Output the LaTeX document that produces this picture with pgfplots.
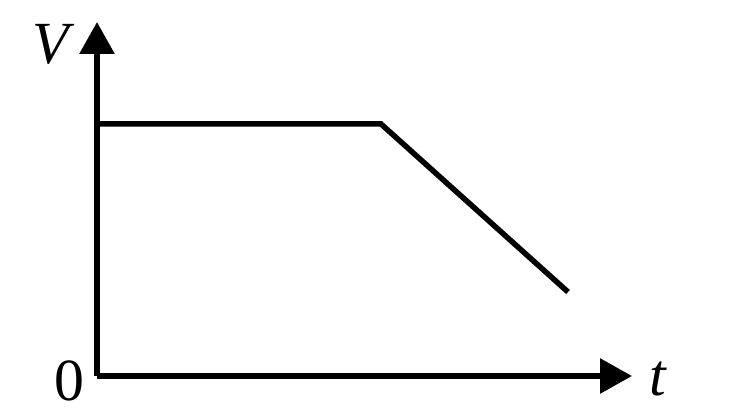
\documentclass[border=0pt]{standalone}
\usepackage{pgfplots}
\pgfplotsset{compat=1.18}
\usepackage{fontspec}
\setmainfont{Liberation Serif}
\usetikzlibrary{arrows.meta}
\begin{document}
\begin{tikzpicture}[x=1bp,y=1bp]
\useasboundingbox (-97,-36) rectangle (641,376);
\begin{axis}[
  at={(0,0)}, anchor=origin,
  scale only axis, width=535bp, height=354bp,
  xmin=0, xmax=535, ymin=0, ymax=354,
  axis lines=left,
  axis line style={line width=6bp, -{Triangle[length=32bp,width=34bp]}},
  every outer x axis line/.append style={line width=6bp},
  every outer y axis line/.append style={line width=6bp},
  xtick=\empty, ytick=\empty,
  clip=false,
]
\addplot[line width=5.5bp, black, line join=miter] coordinates {(0,252) (284,252) (471,84)};
\end{axis}
\node[anchor=base, font=\fontsize{60}{60}\selectfont\itshape] at (-46,313) {V};
\node[anchor=base, font=\fontsize{60}{60}\selectfont] at (-28,-24) {0};
\node[anchor=base, font=\fontsize{60}{60}\selectfont\itshape] at (561,-19) {t};
\end{tikzpicture}
\end{document}
